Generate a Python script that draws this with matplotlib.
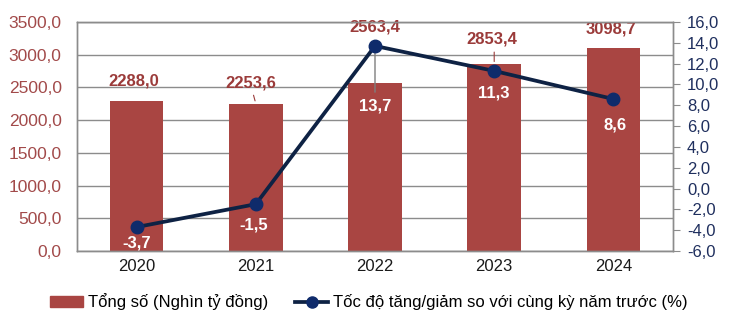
import matplotlib.pyplot as plt
from matplotlib.lines import Line2D
from matplotlib.patches import Patch
import numpy as np

years = ["2020", "2021", "2022", "2023", "2024"]
tong_so = [2288.0, 2253.6, 2563.4, 2853.4, 3098.7]
toc_do = [-3.7, -1.5, 13.7, 11.3, 8.6]

# label offsets in pixels (dx, dy) relative to bar top / marker
bar_lbl_off = [(-3, 20), (-5, 21), (0, 56), (-2, 25), (-2, 19)]
bar_leader = [False, True, False, True, False]
line_lbl_off = [(0, -16), (-2, -21), (0, -60), (0, -22), (2, -26)]
line_leader = [False, False, True, False, False]

BAR = "#A94542"
LBL_RED = "#9B3B3A"
NAVY = "#0E2244"
MARK = "#0F2B6B"
GRID = "#8C8C8C"

plt.rcParams["font.family"] = ["Liberation Sans", "DejaVu Sans"]

def fmt(v):
    return f"{v:.1f}".replace(".", ",")

fig = plt.figure(figsize=(7.3, 3.23), dpi=100)
ax = fig.add_axes([77 / 730, 72 / 323, 596 / 730, 229 / 323])
ax2 = ax.twinx()

x = np.arange(len(years))
ax.bar(x, tong_so, width=0.45, color=BAR, zorder=2)
ax.set_ylim(0, 3500)
ax.set_yticks(np.arange(0, 3501, 500))
ax.set_yticklabels([fmt(v) for v in np.arange(0, 3501, 500)], color="#A24A4A", fontsize=12.5)
ax.set_xlim(-0.5, len(years) - 0.5)
ax.set_xticks(x)
ax.set_xticklabels(years, fontsize=12, color="#1a1a1a")
ax.tick_params(axis="y", length=0, pad=11)
ax.tick_params(axis="x", length=0, pad=6)
ax.grid(axis="y", color=GRID, linewidth=1.0, zorder=0)
ax.set_axisbelow(True)
for s in ax.spines.values():
    s.set_color(GRID)
    s.set_linewidth(1.0)

ax2.plot(x, toc_do, color=NAVY, linewidth=2.7, marker="o", markersize=9,
         markerfacecolor=MARK, markeredgecolor=MARK, zorder=4)
ax2.set_ylim(-6, 16)
rt = np.arange(-6, 16.1, 2)
ax2.set_yticks(rt)
ax2.set_yticklabels([fmt(v) for v in rt], color="#1F2F5E", fontsize=12)
ax2.tick_params(axis="y", length=5, color=GRID, pad=5)
for s in ax2.spines.values():
    s.set_color(GRID)
    s.set_linewidth(1.0)

ax.set_zorder(1)
ax2.set_zorder(2)
ax.patch.set_visible(False)

for i, v in enumerate(tong_so):
    dx, dy = bar_lbl_off[i]
    ax.annotate(fmt(v), (x[i], v), xytext=(dx, dy), textcoords="offset pixels",
                ha="center", va="center", fontsize=12, fontweight="bold",
                color=LBL_RED, zorder=6)
    if bar_leader[i]:
        ax.annotate("", (x[i], v), xytext=(dx + 2, dy - 10), textcoords="offset pixels",
                    arrowprops=dict(arrowstyle="-", color=LBL_RED, lw=0.8))

for i, v in enumerate(toc_do):
    dx, dy = line_lbl_off[i]
    ax2.annotate(fmt(v), (x[i], v), xytext=(dx, dy), textcoords="offset pixels",
                 ha="center", va="center", fontsize=12, fontweight="bold",
                 color="white", zorder=6)
    if line_leader[i]:
        ax2.annotate("", (x[i], v), xytext=(dx, dy + 11), textcoords="offset pixels",
                     arrowprops=dict(arrowstyle="-", color="#7F7F7F", lw=1.0),
                     zorder=3)

handles = [
    Patch(facecolor=BAR, edgecolor=BAR),
    Line2D([], [], color=NAVY, linewidth=2.7, marker="o", markersize=8,
           markerfacecolor=MARK, markeredgecolor=MARK),
]
labels = ["Tổng số (Nghìn tỷ đồng)", "Tốc độ tăng/giảm so với cùng kỳ năm trước (%)"]
fig.legend(handles, labels, loc="center", bbox_to_anchor=(369 / 730, 1 - 302 / 323),
           ncol=2, frameon=False, fontsize=12, handlelength=2.0, handleheight=0.6,
           handletextpad=0.3, columnspacing=1.6)

fig.savefig("out.png", dpi=100)
